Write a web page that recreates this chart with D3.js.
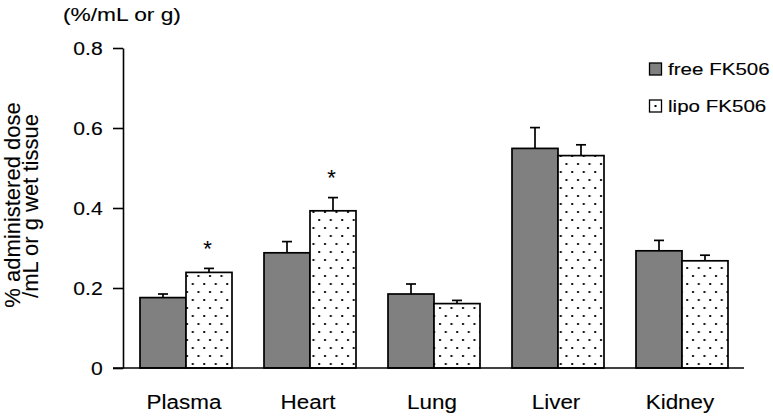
<!DOCTYPE html>
<html>
<head>
<meta charset="utf-8">
<script src="https://cdn.jsdelivr.net/npm/d3@7/dist/d3.min.js"></script>
<style>
  html, body { margin: 0; padding: 0; background: #fff; }
  svg { display: block; font-family: "Liberation Sans", Arial, sans-serif; }
  svg text { stroke: #000; stroke-width: 0.12px; paint-order: stroke; }
</style>
</head>
<body>
<svg id="chart" width="773" height="417"></svg>
<script>
const categories = ["Plasma", "Heart", "Lung", "Liver", "Kidney"];
const seriesNames = ["free FK506", "lipo FK506"];
const freeValues = [0.176, 0.288, 0.185, 0.549, 0.293];
const freeErrors = [0.009, 0.028, 0.025, 0.052, 0.026];
const lipoValues = [0.239, 0.393, 0.161, 0.531, 0.268];
const lipoErrors = [0.010, 0.033, 0.008, 0.027, 0.014];
const lipoSignificant = [true, true, false, false, false];
const yTicks = [0, 0.2, 0.4, 0.6, 0.8];
const yTickLabels = ["0", "0.2", "0.4", "0.6", "0.8"];

const svg = d3.select("#chart");

const defs = svg.append("defs");
const pat = defs.append("pattern")
  .attr("id", "dots").attr("patternUnits", "userSpaceOnUse")
  .attr("width", 11.5).attr("height", 16);
pat.append("rect").attr("width", 11.5).attr("height", 16).attr("fill", "#fff");
pat.append("rect").attr("x", 2).attr("y", 3).attr("width", 2).attr("height", 2).attr("fill", "#111");
pat.append("rect").attr("x", 7.75).attr("y", 11).attr("width", 2).attr("height", 2).attr("fill", "#111");

const y = d3.scaleLinear().domain([0, 0.8]).range([368, 48]);
const x = d3.scaleBand().domain(categories).range([124, 744])
  .paddingInner(32 / 124).paddingOuter(16 / 124);
const xs = d3.scaleBand().domain(seriesNames).range([0, x.bandwidth()]).padding(0);

const fills = { "free FK506": "#808080", "lipo FK506": "url(#dots)" };

const rows = [];
categories.forEach((c, i) => {
  rows.push({ cat: c, s: seriesNames[0], v: freeValues[i], e: freeErrors[i], sig: false });
  rows.push({ cat: c, s: seriesNames[1], v: lipoValues[i], e: lipoErrors[i], sig: lipoSignificant[i] });
});

// error bars
const eb = svg.append("g").attr("stroke", "#000").attr("stroke-width", 1.7).attr("fill", "none");
rows.forEach(d => {
  const cx = x(d.cat) + xs(d.s) + xs.bandwidth() / 2;
  eb.append("line").attr("x1", cx).attr("x2", cx).attr("y1", y(d.v)).attr("y2", y(d.v + d.e));
  eb.append("line").attr("x1", cx - 5).attr("x2", cx + 5).attr("y1", y(d.v + d.e)).attr("y2", y(d.v + d.e));
});

// bars
svg.append("g").selectAll("rect").data(rows).join("rect")
  .attr("x", d => x(d.cat) + xs(d.s))
  .attr("y", d => y(d.v))
  .attr("width", xs.bandwidth())
  .attr("height", d => y(0) - y(d.v))
  .attr("fill", d => fills[d.s])
  .attr("stroke", "#000").attr("stroke-width", 1.7);

// significance asterisks
svg.append("g").selectAll("text").data(rows.filter(d => d.sig)).join("text")
  .attr("x", d => x(d.cat) + xs(d.s) + xs.bandwidth() / 2 - 1.5)
  .attr("y", d => y(d.v + d.e) - 12.5)
  .attr("text-anchor", "middle").attr("font-size", 22).attr("fill", "#000")
  .text("*");

// y axis
const yAxis = svg.append("g").attr("transform", "translate(123,0)")
  .call(d3.axisLeft(y).tickValues(yTicks).tickSize(10).tickSizeOuter(0).tickPadding(6.8)
    .tickFormat((d, i) => yTickLabels[i]));
yAxis.select(".domain").attr("stroke", "#000").attr("stroke-width", 1.6);
yAxis.selectAll(".tick line").attr("stroke", "#000").attr("stroke-width", 1.6);
yAxis.selectAll(".tick text")
  .attr("font-family", "Liberation Sans, Arial, sans-serif")
  .attr("font-size", 17.5).attr("fill", "#000")
  .attr("dy", "0.36em")
  .attr("transform", "scale(1.21,1)");

// x baseline
svg.append("line").attr("x1", 113).attr("x2", 744).attr("y1", y(0)).attr("y2", y(0))
  .attr("stroke", "#000").attr("stroke-width", 1.6);

// category labels
svg.append("g").selectAll("text").data(categories).join("text")
  .attr("transform", d => `translate(${x(d) + x.bandwidth() / 2 - 2},409) scale(1.07,1)`)
  .attr("text-anchor", "middle").attr("font-size", 21).attr("fill", "#000")
  .text(d => d);

// unit label
svg.append("text").attr("transform", "translate(63,21) scale(1.23,1)")
  .attr("font-size", 18.5).attr("fill", "#000").text("(%/mL or g)");

// y title
svg.append("text").attr("transform", "translate(20,205) rotate(-90)")
  .attr("text-anchor", "middle").attr("font-size", 22).attr("fill", "#000")
  .text("% administered dose");
svg.append("text").attr("transform", "translate(38,206) rotate(-90)")
  .attr("text-anchor", "middle").attr("font-size", 22).attr("fill", "#000")
  .text("/mL or g wet tissue");

// legend
const legY = [63, 100];
seriesNames.forEach((s, i) => {
  const g = svg.append("g");
  g.append("rect").attr("x", 649.5).attr("y", legY[i]).attr("width", 12).attr("height", 12)
    .attr("fill", i === 0 ? "#808080" : "#fff").attr("stroke", "#000").attr("stroke-width", 1.3);
  if (i === 1) {
    g.append("rect").attr("x", 654.5).attr("y", legY[i] + 5).attr("width", 2).attr("height", 2).attr("fill", "#000");
  }
  g.append("text").attr("transform", `translate(668,${legY[i] + 12}) scale(1.21,1)`)
    .attr("font-size", 17).attr("fill", "#000").text(s);
});
</script>
</body>
</html>
